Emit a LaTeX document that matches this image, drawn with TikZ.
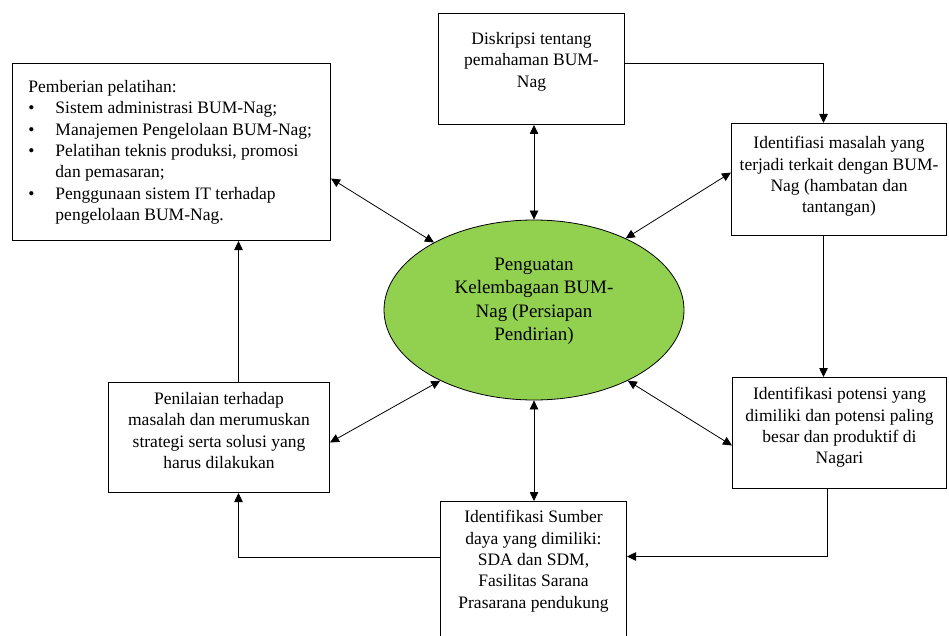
\documentclass[tikz,border=0pt]{standalone}
\usepackage{fontspec}
\setmainfont{Liberation Serif}
\usetikzlibrary{arrows.meta,shapes.geometric,calc}
\definecolor{hubgreen}{RGB}{146,208,80}
\newcommand{\boxtext}[4]{\parbox[t][#2][t]{#1}{\vspace*{#3}\centering #4}}
\newcommand{\itm}{\par\hangindent=27pt\hangafter=1\noindent\makebox[27pt][l]{\textbullet}}

\begin{document}
\begin{tikzpicture}[
  x=1pt, y=-1pt,
  every node/.style={font=\fontsize{17.5}{21.3}\selectfont},
  box/.style={draw, line width=1pt, inner sep=0pt, anchor=north west},
  hub/.style={draw, ellipse, fill=hubgreen, line width=0.8pt, minimum width=300pt, minimum height=180pt, inner sep=0pt, font=\fontsize{19}{23.3}\selectfont},
  flow/.style={-{Triangle[length=9pt,width=8.5pt]}, line width=0.8pt},
  link/.style={{Triangle[length=9pt,width=8.5pt]}-{Triangle[length=9pt,width=8.5pt]}, line width=0.8pt}
]
\useasboundingbox (0,0) rectangle (949,636);
\clip (0,0) rectangle (949,636);

% boxes round the hub
\node[box] (train) at (12,63) {\parbox[t][177pt][t]{318pt}{\vspace*{17pt}\raggedright\leftskip=16pt Pemberian pelatihan:\itm Sistem administrasi BUM-Nag;\itm Manajemen Pengelolaan BUM-Nag;\itm Pelatihan teknis produksi, promosi\newline dan pemasaran;\itm Penggunaan sistem IT terhadap\newline pengelolaan BUM-Nag.}};
\node[box] (desc) at (438,13) {\boxtext{186pt}{111pt}{19pt}{Diskripsi tentang\\ pemahaman BUM-\\ Nag}};
\node[box] (prob) at (731,123) {\boxtext{215pt}{112pt}{13pt}{Identifiasi masalah yang\\ terjadi terkait dengan BUM-\\ Nag (hambatan dan\\ tantangan)}};
\node[box] (pot) at (732,377) {\boxtext{214pt}{111pt}{10pt}{Identifikasi potensi yang\\ dimiliki dan potensi paling\\ besar dan produktif di\\ Nagari}};
\node[box] (pen) at (108,382) {\boxtext{221pt}{110pt}{10pt}{Penilaian terhadap\\ masalah dan merumuskan\\ strategi serta solusi yang\\ harus dilakukan}};
\node[box] (src) at (440,501) {\boxtext{186pt}{140pt}{9pt}{Identifikasi Sumber\\ daya yang dimiliki:\\ SDA dan SDM,\\ Fasilitas Sarana\\ Prasarana pendukung}};

% hub
\node[hub] (ell) at (534,310) {\parbox[c][104pt][t]{200pt}{\centering Penguatan\\ Kelembagaan BUM-\\ Nag (Persiapan\\ Pendirian)}};

% cycle
\draw[flow] ([yshift=5.5pt]desc.east) -| ([xshift=-15.5pt]prob.north);
\draw[flow] ([xshift=-15.5pt]prob.south) -- ([xshift=-15.5pt]prob.south |- pot.north);
\draw[flow] ([xshift=-12pt]pot.south) |- ([yshift=15pt]src.east);
\draw[flow] ([yshift=14pt]src.west) -| ([xshift=19.5pt]pen.south);
\draw[flow] ([xshift=19.5pt]pen.north) -- ([xshift=19.5pt]pen.north |- train.south);

% spokes
\draw[link] (ell.north |- desc.south) -- (ell.north);
\draw[link] (ell.38) -- ([yshift=7pt]prob.west);
\draw[link] (ell.-37) -- ([yshift=-12.5pt]pot.west);
\draw[link] (ell.south) -- (ell.south |- src.north);
\draw[link] (ell.217) -- ([yshift=-5pt]pen.east);
\draw[link] ([yshift=-26.5pt]train.east) -- (ell.146);

\end{tikzpicture}
\end{document}
